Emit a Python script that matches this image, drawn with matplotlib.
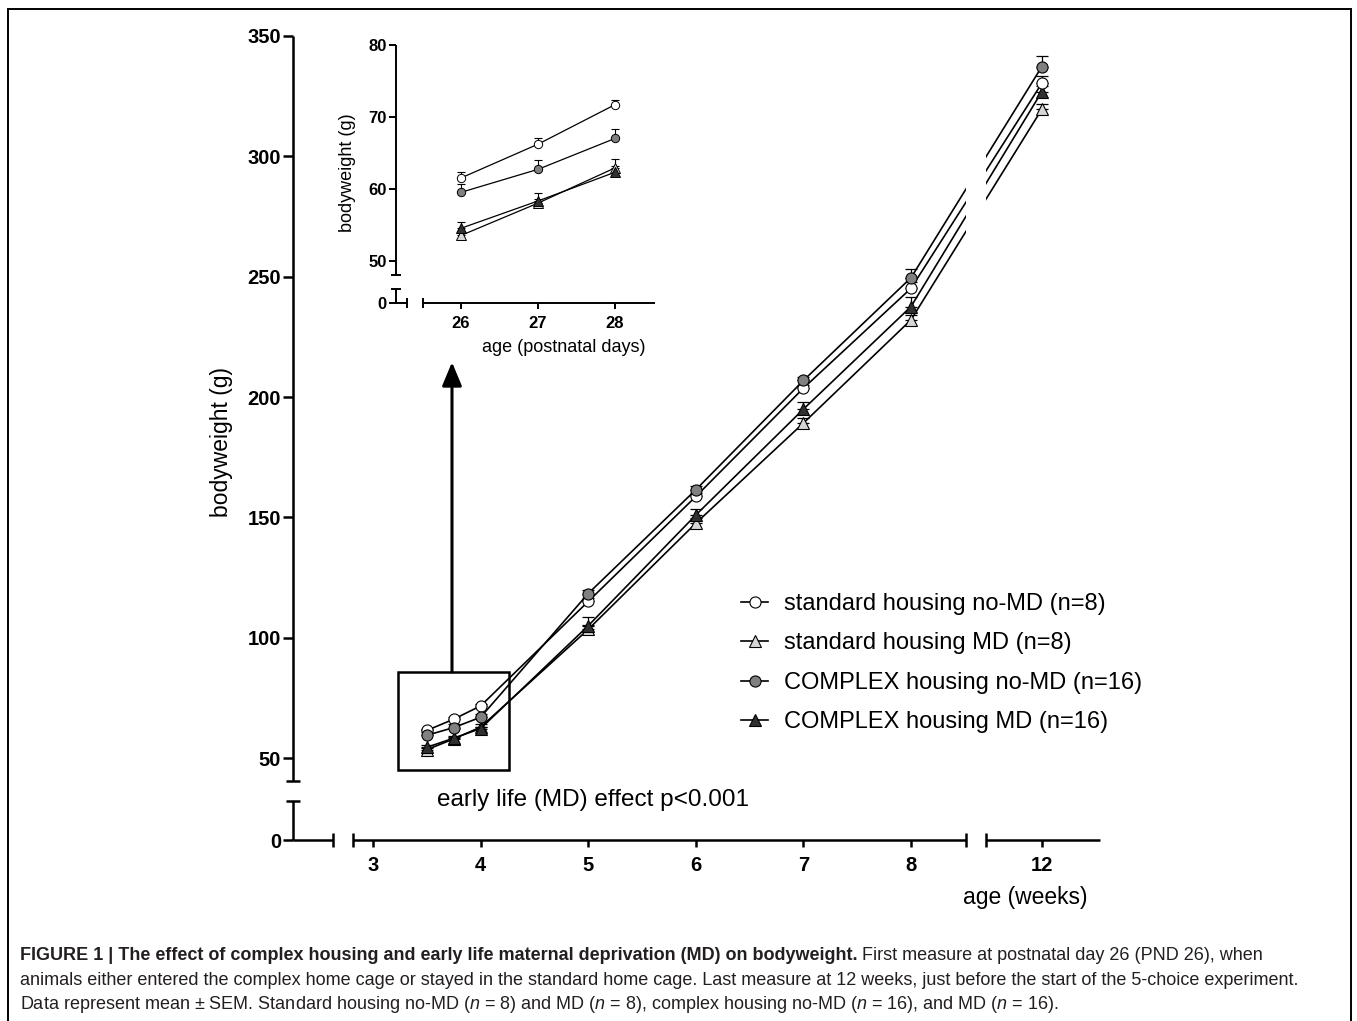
import numpy as np
import matplotlib
import matplotlib.pyplot as plt
from matplotlib.patches import Rectangle
from matplotlib import font_manager

W, H = 1357, 1021

# ---- data ----
# PND 26/27/28 are drawn at 3.5/3.75/4 weeks on the main axis
weeks = [3.5, 3.75, 4, 5, 6, 7, 8, 12]
days = [26, 27, 28]

std_nomd = [61.5, 66.2, 71.7, 115.1, 158.7, 203.7, 245.2, 330.4]
std_nomd_err = [0.8, 0.9, 0.7, 1.5, 1.5, 1.5, 2.5, 3.0]
std_md = [53.5, 58.0, 62.9, 103.5, 147.6, 189.2, 232.1, 319.6]
std_md_err = [0.6, 0.6, 1.3, 2.0, 2.0, 2.0, 2.0, 2.0]
cx_nomd = [59.5, 62.7, 67.0, 118.4, 161.5, 206.9, 249.6, 337.3]
cx_nomd_err = [1.2, 1.3, 1.3, 1.5, 1.5, 1.5, 3.5, 4.5]
cx_md = [54.5, 58.3, 62.3, 105.0, 151.0, 195.0, 237.6, 326.9]
cx_md_err = [0.9, 1.1, 0.8, 3.5, 2.5, 3.0, 4.0, 2.5]

labels = ["standard housing no-MD (n=8)", "standard housing MD (n=8)",
          "COMPLEX housing no-MD (n=16)", "COMPLEX housing MD (n=16)"]

main_xticks = [3, 4, 5, 6, 7, 8, 12]
main_yticks = [0, 50, 100, 150, 200, 250, 300, 350]
inset_yticks = [0, 50, 60, 70, 80]

# ---- fonts ----
try:
    font_manager.findfont("Liberation Sans Narrow", fallback_to_default=False)
    cap_family = "Liberation Sans Narrow"
except Exception:
    cap_family = "Liberation Sans"
plt.rcParams["font.family"] = ["Liberation Sans", "DejaVu Sans"]
plt.rcParams["mathtext.fontset"] = "custom"
plt.rcParams["mathtext.rm"] = cap_family
plt.rcParams["mathtext.it"] = cap_family + ":italic"

series = [
    (std_nomd, std_nomd_err, "o", "white"),
    (std_md, std_md_err, "^", "#d6d6d6"),
    (cx_nomd, cx_nomd_err, "o", "#808080"),
    (cx_md, cx_md_err, "^", "#303030"),
]
draw_order = [1, 3, 0, 2]


def interp_scale(kin, kout):
    return (lambda v: np.interp(v, kin, kout), lambda q: np.interp(q, kout, kin))


def axis_pieces(ax, xsegs, ysegs, xcaps, ycaps, lw, cap):
    x0, y0 = ax.get_xlim()[0], ax.get_ylim()[0]
    for a, b in xsegs:
        ax.plot([a, b], [y0, y0], color="k", lw=lw, clip_on=False,
                solid_capstyle="butt", zorder=6)
    for a, b in ysegs:
        ax.plot([x0, x0], [a, b], color="k", lw=lw, clip_on=False,
                solid_capstyle="butt", zorder=6)
    ax.plot(xcaps, [y0] * len(xcaps), ls="none", marker="|", ms=cap, mew=lw,
            color="k", clip_on=False, zorder=6)
    ax.plot([x0] * len(ycaps), ycaps, ls="none", marker="_", ms=cap, mew=lw,
            color="k", clip_on=False, zorder=6)
    for s in ax.spines.values():
        s.set_visible(False)


fig = plt.figure(figsize=(W / 100, H / 100), dpi=100)

# ---- main axes ----
ax = fig.add_axes([293 / W, 1 - 840 / H, 807 / W, 804 / H])
ax.set_xscale("function", functions=interp_scale([-100, 8.51, 11.48, 100],
                                                 [-100, 8.51, 8.696, 97.216]))
ax.set_yscale("function", functions=interp_scale([-1000, 16.2, 40.5, 1000],
                                                 [-1000, 16.2, 24.5, 984.0]))
ax.set_xlim(2.2565, 12.54)
ax.set_ylim(0, 350)

handles = [None] * 4
for i in draw_order:
    vals, err, mk, fc = series[i]
    ax.errorbar(weeks, vals, yerr=[np.zeros(len(err)), err], fmt="none",
                ecolor="k", elinewidth=0.9, capsize=4, capthick=0.9, zorder=2)
    h, = ax.plot(weeks, vals, color="k", lw=1.2, marker=mk, ms=8 if mk == "o" else 8.5,
                 mfc=fc, mec="k", mew=0.8, zorder=3, label=labels[i])
    handles[i] = h

# white band: break in the lines where the x axis is broken
ax.add_patch(Rectangle((8.51, 250), 11.48 - 8.51, 95, facecolor="white",
                       edgecolor="none", zorder=4))

axis_pieces(ax, [(2.2565, 2.628), (2.814, 8.51), (11.48, 12.54)],
            [(0, 16.2), (40.5, 350)], [2.628, 2.814, 8.51, 11.48], [16.2, 40.5],
            1.8, 9.5)
ax.set_xticks(main_xticks)
ax.set_xticklabels([str(t) for t in main_xticks], fontweight="bold")
ax.set_yticks(main_yticks)
ax.set_yticklabels([str(t) for t in main_yticks], fontweight="bold")
ax.minorticks_off()
ax.tick_params(axis="y", length=7, width=1.8, pad=1.5, labelsize=14.5)
ax.tick_params(axis="x", length=5, width=1.8, pad=6.5, labelsize=14.5)
ax.set_facecolor("none")

ax.set_ylabel("bodyweight (g)", fontsize=16.5, va="center")
ax.yaxis.set_label_coords(-0.088, 0.495)
ax.set_xlabel("age (weeks)", fontsize=16.5, ha="right", va="center")
ax.xaxis.set_label_coords(0.985, -0.071)

# early-life box + arrow
ax.add_patch(Rectangle((3.232, 45.1), 4.264 - 3.232, 85.8 - 45.1, fill=False,
                       edgecolor="k", lw=1.8, zorder=1))
ax.annotate("", xy=(3.734, 214.5), xytext=(3.734, 85.8),
            arrowprops=dict(arrowstyle="-|>,head_length=0.72,head_width=0.3",
                            lw=2.2, color="k", mutation_scale=20,
                            shrinkA=0, shrinkB=0))
fig.text(436.7 / W, 1 - 800 / H, "early life (MD) effect p<0.001", fontsize=17.5,
         ha="left", va="center")

ax.legend(handles=handles, loc="upper left", bbox_to_anchor=(741 / W, 1 - 593 / H),
          bbox_transform=fig.transFigure, frameon=False, borderpad=0,
          borderaxespad=0, fontsize=17, handlelength=1.15, handletextpad=0.68,
          labelspacing=0.74)

# ---- inset ----
ins = fig.add_axes([395.7 / W, 1 - 303.3 / H, 259.3 / W, 258.3 / H])
ins.set_yscale("function", functions=interp_scale([-1000, 1.95, 48.0, 1000],
                                                  [-1000, 1.95, 3.94, 955.94]))
ins.set_xlim(25.152, 28.519)
ins.set_ylim(0, 80)
for i in draw_order:
    vals, err, mk, fc = series[i]
    ins.errorbar(days, vals[:3], yerr=[np.zeros(3), err[:3]], fmt="none",
                 ecolor="k", elinewidth=0.8, capsize=3, capthick=0.8, zorder=2)
    ins.plot(days, vals[:3], color="k", lw=0.9, marker=mk, ms=6 if mk == "o" else 6.5,
             mfc=fc, mec="k", mew=0.7, zorder=3)
axis_pieces(ins, [(25.152, 25.299), (25.507, 28.519)], [(0, 1.95), (48.0, 80)],
            [25.299, 25.507], [1.95, 48.0], 1.4, 7.5)
ins.set_xticks(days)
ins.set_xticklabels([str(d) for d in days], fontweight="bold")
ins.set_yticks(inset_yticks)
ins.set_yticklabels([str(t) for t in inset_yticks], fontweight="bold")
ins.minorticks_off()
ins.tick_params(axis="y", length=5, width=1.4, pad=1.5, labelsize=12)
ins.tick_params(axis="x", length=4, width=1.4, pad=5, labelsize=12)
ins.set_facecolor("none")
ins.set_ylabel("bodyweight (g)", fontsize=13, va="center")
ins.yaxis.set_label_coords(-0.184, 0.504)
ins.set_xlabel("age (postnatal days)", fontsize=13, ha="right", va="center")
ins.xaxis.set_label_coords(0.965, -0.173)

# ---- frame + caption ----
fig.patches.append(Rectangle((8 / W, -0.05), (1351 - 8) / W, 1 - 9 / H + 0.05,
                             transform=fig.transFigure, fill=False,
                             edgecolor="k", lw=1.4))

cap_size = 13.0
cap_color = "#231f20"
renderer = fig.canvas.get_renderer()
space_px = 0.25 * cap_size * 100 / 72
t1 = fig.text(20 / W, 1 - 955 / H,
              "FIGURE 1 | The effect of complex housing and early life maternal "
              "deprivation (MD) on bodyweight.",
              family=[cap_family, "DejaVu Sans"], fontsize=cap_size,
              fontweight="bold", color=cap_color, va="center")
x1 = t1.get_window_extent(renderer).x1 + space_px
fig.text(x1 / W, 1 - 955 / H,
         "First measure at postnatal day 26 (PND 26), when",
         family=[cap_family, "DejaVu Sans"], fontsize=cap_size, color=cap_color,
         va="center")
fig.text(20 / W, 1 - 980 / H,
         "animals either entered the complex home cage or stayed in the standard "
         "home cage. Last measure at 12 weeks, just before the start of the "
         "5-choice experiment.",
         family=[cap_family, "DejaVu Sans"], fontsize=cap_size, color=cap_color,
         va="center")
fig.text(20 / W, 1 - 1004 / H,
         "Data represent mean \u00b1 SEM. Standard housing no-MD ($n$ = 8) and "
         "MD ($n$ = 8), complex housing no-MD ($n$ = 16), and MD ($n$ = 16).",
         family=[cap_family, "DejaVu Sans"], fontsize=cap_size, color=cap_color,
         va="center")

fig.savefig("out.png", dpi=100)
